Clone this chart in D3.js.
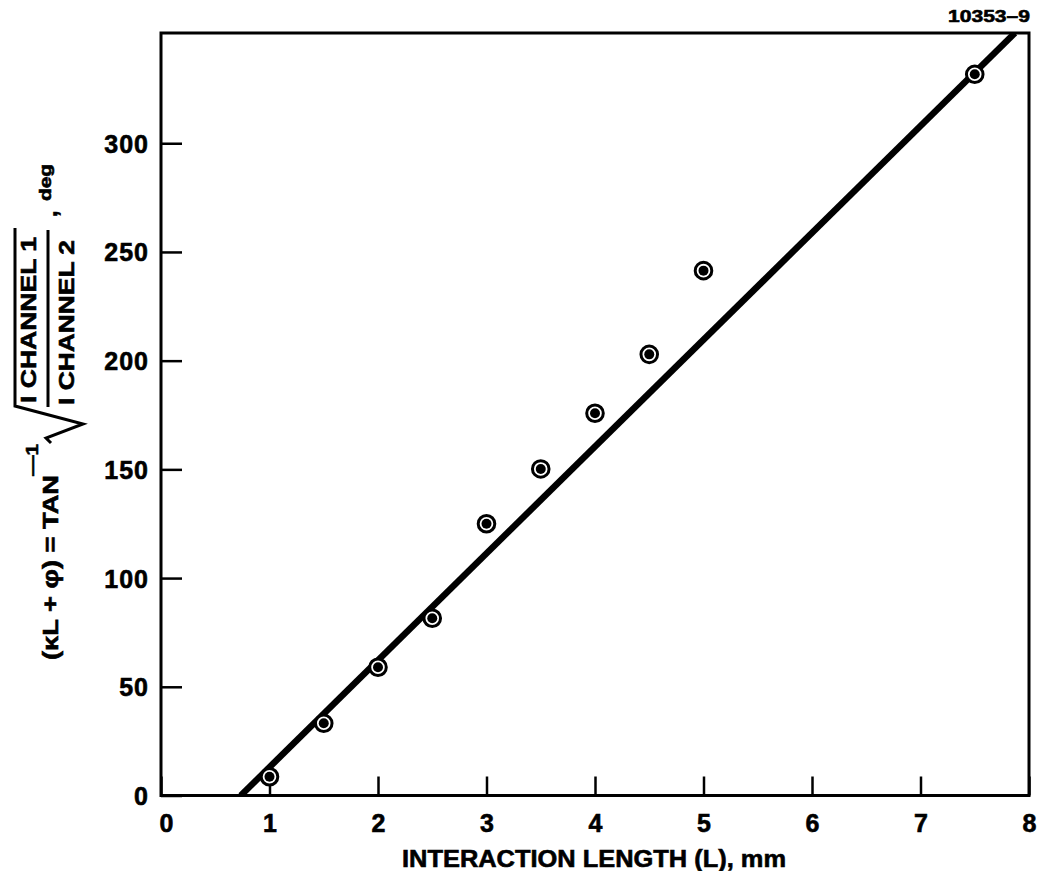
<!DOCTYPE html>
<html>
<head>
<meta charset="utf-8">
<script src="https://cdn.jsdelivr.net/npm/d3@7"></script>
<style>
  html, body { margin: 0; padding: 0; background: #fff; }
  svg { display: block; }
  text { font-family: "Liberation Sans", Arial, Helvetica, sans-serif; font-weight: bold; fill: #000;
         stroke: #000; stroke-width: 0.6px; }
</style>
</head>
<body>
<svg id="chart" width="1037" height="871"></svg>
<script>
// ---- data ----
const lengthMM = [1.0, 1.5, 2.0, 2.5, 3.0, 3.5, 4.0, 4.5, 5.0, 7.5];
const phaseDeg = [8.6, 33.2, 59.0, 81.5, 125.0, 150.2, 175.8, 202.9, 241.4, 331.7];
const fitL = [0.735, 7.87];
const fitDeg = [0, 350.7];
const xTicks = [0, 1, 2, 3, 4, 5, 6, 7, 8];
const yTicks = [0, 50, 100, 150, 200, 250, 300];
const xTitle = "INTERACTION LENGTH (L), mm";
const figId = "10353–9";

// ---- layout ----
const pL = 161, pR = 1029, pT = 33, pB = 795.5;
const svg = d3.select("#chart");
const x = d3.scaleLinear().domain([0, 8]).range([pL, pR]);
const y = d3.scaleLinear().domain([0, 350.7]).range([pB, pT]);

svg.append("defs").append("clipPath").attr("id", "plot")
  .append("rect").attr("x", pL).attr("y", pT).attr("width", pR - pL).attr("height", pB - pT);

// x axis (ticks inward)
const gx = svg.append("g").attr("transform", `translate(0,${pB})`)
  .call(d3.axisBottom(x).tickValues(xTicks).tickFormat(d3.format("d"))
        .tickSizeInner(-19).tickSizeOuter(0).tickPadding(18));
gx.select(".domain").remove();
gx.selectAll(".tick line").attr("stroke", "#000").attr("stroke-width", 2.5);
gx.selectAll(".tick text").attr("font-size", 25).attr("font-family", null).attr("dy", "0.72em")
  .attr("fill", "#000").attr("dx", d => d === 0 ? 5 : 0);

// y axis (ticks inward)
const gy = svg.append("g").attr("transform", `translate(${pL},0)`)
  .call(d3.axisLeft(y).tickValues(yTicks).tickFormat(d3.format("d"))
        .tickSizeInner(-21).tickSizeOuter(0).tickPadding(12));
gy.select(".domain").remove();
gy.selectAll(".tick line").attr("stroke", "#000").attr("stroke-width", 2.5);
gy.selectAll(".tick text").attr("font-size", 25).attr("font-family", null)
  .attr("fill", "#000").attr("letter-spacing", 1).attr("dy", "0.36em");

// frame
svg.append("rect").attr("x", pL).attr("y", pT)
  .attr("width", pR - pL).attr("height", pB - pT)
  .attr("fill", "none").attr("stroke", "#000").attr("stroke-width", 3);

// fitted line
const fit = fitL.map((d, i) => [d, fitDeg[i]]);
svg.append("path").datum(fit)
  .attr("clip-path", "url(#plot)")
  .attr("d", d3.line().x(d => x(d[0])).y(d => y(d[1])))
  .attr("fill", "none").attr("stroke", "#000").attr("stroke-width", 6.5);

// markers
const pts = lengthMM.map((d, i) => [d, phaseDeg[i]]);
const mk = svg.append("g").selectAll("g").data(pts).join("g")
  .attr("transform", d => `translate(${x(d[0])},${y(d[1])})`);
mk.append("circle").attr("r", 8.3).attr("fill", "#fff").attr("stroke", "#000").attr("stroke-width", 3);
mk.append("circle").attr("r", 5).attr("fill", "#000");

// x title
svg.append("text").attr("x", 594).attr("y", 867).attr("text-anchor", "middle")
  .attr("font-size", 24).attr("textLength", 384).attr("lengthAdjust", "spacingAndGlyphs").text(xTitle);

// figure id
svg.append("text").attr("x", 948).attr("y", 22).attr("font-size", 17)
  .attr("textLength", 82).attr("lengthAdjust", "spacingAndGlyphs").text(figId);

// y title (rotated: a = -pageY, b = pageX)
const yt = svg.append("g").attr("transform", "rotate(-90)");
yt.append("text").attr("x", -660).attr("y", 58).attr("font-size", 22.5)
  .attr("textLength", 185).attr("lengthAdjust", "spacingAndGlyphs").text("(κL + φ) = TAN");
yt.append("text").attr("x", -476).attr("y", 38).attr("font-size", 17)
  .attr("textLength", 32).attr("lengthAdjust", "spacingAndGlyphs").text("—1");
yt.append("path")
  .attr("d", "M-443,51 L-438,46 L-424,83 L-406,15 L-228,15")
  .attr("fill", "none").attr("stroke", "#000").attr("stroke-width", 3).attr("stroke-linejoin", "miter");
yt.append("text").attr("x", -403).attr("y", 36).attr("font-size", 21.5)
  .attr("textLength", 166).attr("lengthAdjust", "spacingAndGlyphs").text("I CHANNEL 1");
yt.append("line").attr("x1", -407).attr("x2", -230).attr("y1", 48).attr("y2", 48)
  .attr("stroke", "#000").attr("stroke-width", 3);
yt.append("text").attr("x", -405).attr("y", 74).attr("font-size", 21.5)
  .attr("textLength", 165).attr("lengthAdjust", "spacingAndGlyphs").text("I CHANNEL 2");
yt.append("text").attr("x", -217).attr("y", 57).attr("font-size", 24).text(",");
yt.append("text").attr("x", -201).attr("y", 51).attr("font-size", 17)
  .attr("textLength", 37).attr("lengthAdjust", "spacingAndGlyphs").text("deg");
</script>
</body>
</html>
